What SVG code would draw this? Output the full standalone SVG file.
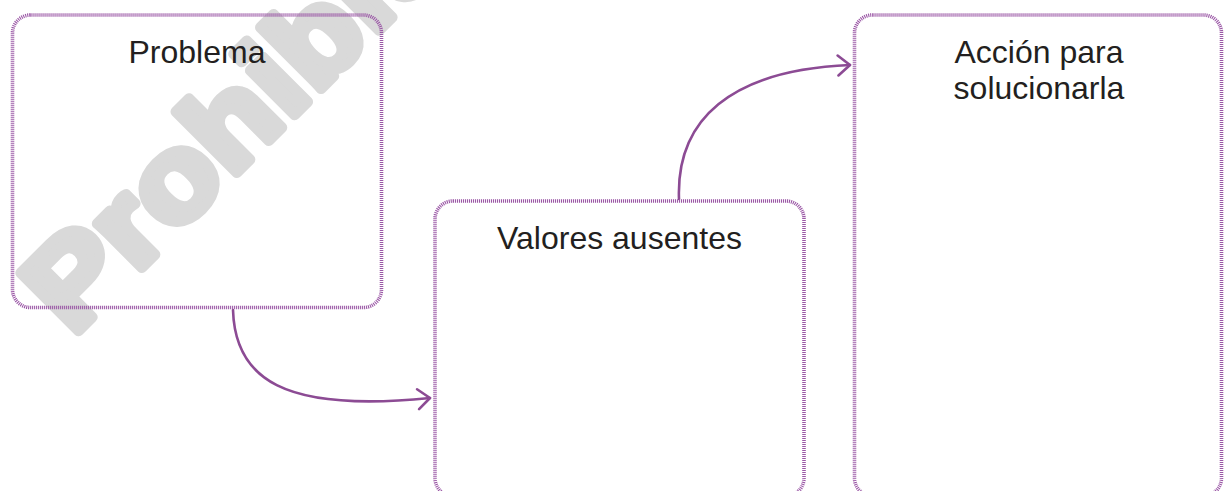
<svg xmlns="http://www.w3.org/2000/svg" width="1226" height="491" viewBox="0 0 1226 491">
  <defs>
    <style>
      .box { fill: none; stroke: #9b58a6; stroke-width: 3.6; stroke-dasharray: 1.1 0.9; }
      .label { font-family: "Liberation Sans", Arial, sans-serif; font-size: 32px; fill: #231f20; text-anchor: middle; }
      .conn { fill: none; stroke: #8c4b94; stroke-width: 2.6; stroke-linecap: round; }
      .wm { font-family: "Liberation Sans", Arial, sans-serif; font-weight: bold; font-size: 120px; letter-spacing: 1px; fill: #d9d9d9; stroke: #d9d9d9; stroke-width: 10; stroke-linejoin: round; }
    </style>
    <marker id="arrow" markerUnits="userSpaceOnUse" markerWidth="30" markerHeight="30" refX="0" refY="0" viewBox="-15 -15 30 30" orient="auto">
      <path d="M-12,-10 L0,0 L-12,10" fill="none" stroke="#8c4b94" stroke-width="2.6" stroke-linecap="round" stroke-linejoin="round"/>
    </marker>
  </defs>
  <rect width="1226" height="491" fill="#ffffff"/>
  <text class="wm" transform="rotate(-45) scale(1.1,1)" x="-170" y="290">Prohibida su venta</text>

  <g id="connectors">
    <path class="conn" d="M233,310 C235,378 282,413 430,398" marker-end="url(#arrow)"/>
    <path class="conn" d="M679,199 C676,120 730,70 850,65" marker-end="url(#arrow)"/>
  </g>

  <g id="problema">
    <rect class="box" x="12.5" y="15" width="369" height="292.5" rx="18"/>
    <text class="label" x="197" y="63">Problema</text>
  </g>
  <g id="valores">
    <rect class="box" x="435" y="201" width="369" height="295" rx="18"/>
    <text class="label" x="619.5" y="249">Valores ausentes</text>
  </g>
  <g id="accion">
    <rect class="box" x="854.5" y="15" width="367" height="481" rx="18"/>
    <text class="label" x="1039" y="63">Acción para</text>
    <text class="label" x="1039" y="99">solucionarla</text>
  </g>
</svg>
